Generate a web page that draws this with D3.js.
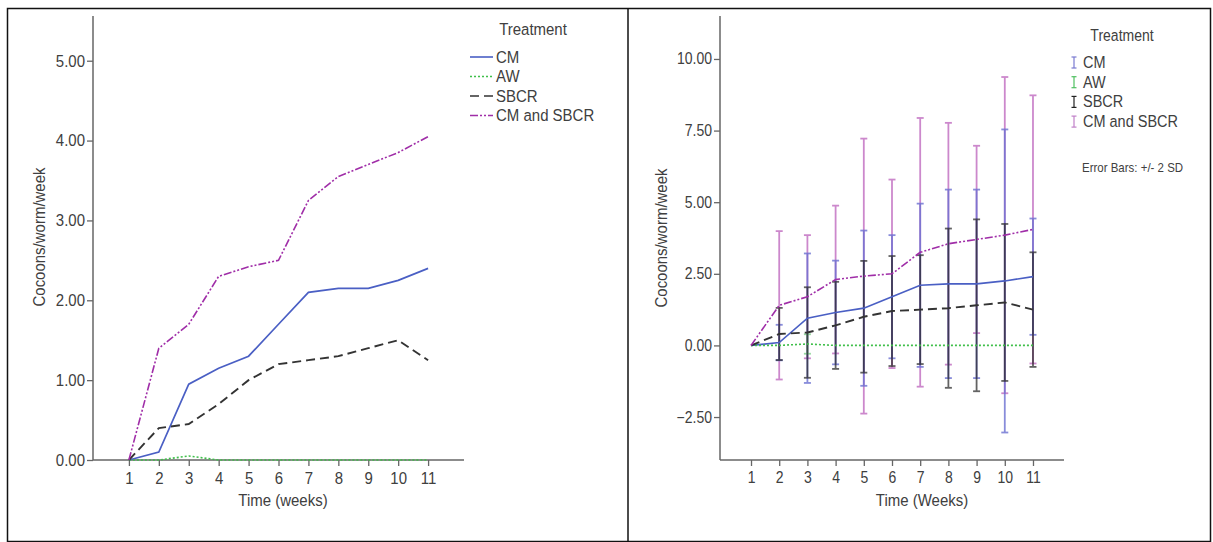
<!DOCTYPE html>
<html>
<head>
<meta charset="utf-8">
<script src="https://cdn.jsdelivr.net/npm/d3@7"></script>
<style>
  body { margin: 0; background: #fff; }
  text { font-family: Arial, "Liberation Sans", sans-serif; fill: #404040; }
</style>
</head>
<body>
<script>
// Data
const weeks = ['1', '2', '3', '4', '5', '6', '7', '8', '9', '10', '11'];
const treatments = ['CM', 'AW', 'SBCR', 'CM and SBCR'];

const cmMean     = [0, 0.10, 0.95, 1.15, 1.30, 1.70, 2.10, 2.15, 2.15, 2.25, 2.40];
const awMean     = [0, 0.00, 0.05, 0.00, 0.00, 0.00, 0.00, 0.00, 0.00, 0.00, 0.00];
const sbcrMean   = [0, 0.40, 0.45, 0.70, 1.00, 1.20, 1.25, 1.30, 1.40, 1.50, 1.25];
const cmSbcrMean = [0, 1.40, 1.70, 2.30, 2.42, 2.50, 3.25, 3.55, 3.70, 3.85, 4.05];

// +/- 2 SD half widths
const cm2sd     = [0, 0.62, 2.26, 1.81, 2.71, 2.15, 2.85, 3.29, 3.29, 5.29, 2.03];
const aw2sd     = [0, 0.00, 0.34, 0.00, 0.00, 0.00, 0.00, 0.00, 0.00, 0.00, 0.00];
const sbcr2sd   = [0, 0.91, 1.58, 1.52, 1.95, 1.92, 1.90, 2.78, 3.00, 2.74, 2.00];
const cmSbcr2sd = [0, 2.59, 2.15, 2.58, 4.80, 3.29, 4.69, 4.22, 3.27, 5.52, 4.68];

const leftTicks  = [0, 1, 2, 3, 4, 5];
const rightTicks = [-2.5, 0, 2.5, 5, 7.5, 10];

const series = [
  { name: treatments[0], mean: cmMean, sd2: cm2sd, color: '#4a5fc4', bar: '#6b70d2', key: '#7a7ad0', barOp: 0.8, dash: null, width: 1.7 },
  { name: treatments[1], mean: awMean, sd2: aw2sd, color: '#3fbf4a', bar: '#6cc87a', key: '#4fc060', barOp: 0.7, dash: '2,2', width: 1.6 },
  { name: treatments[2], mean: sbcrMean, sd2: sbcr2sd, color: '#333333', bar: '#222222', key: '#222222', barOp: 0.7, dash: '9,5', width: 1.9 },
  { name: treatments[3], mean: cmSbcrMean, sd2: cmSbcr2sd, color: '#a02ea8', bar: '#cc88cc', key: '#c080c8', barOp: 1, dash: '8,2,2,2,2,2', width: 1.6 }
];

const stretch = 1.12; // the source text is a little taller than wide

const svg = d3.select('body')
  .append('svg')
  .attr('width', 1213)
  .attr('height', 542);

// outer frame and divider
svg.append('rect')
  .attr('x', 7.5).attr('y', 8.5)
  .attr('width', 1203).attr('height', 533)
  .attr('fill', 'none').attr('stroke', '#111').attr('stroke-width', 1.5);
svg.append('line')
  .attr('x1', 628).attr('x2', 628).attr('y1', 8.5).attr('y2', 541.5)
  .attr('stroke', '#111').attr('stroke-width', 1.5);

const axisColor = '#666';

function label(g, x, y, txt, size, anchor, rot) {
  return g.append('text')
    .attr('transform', `translate(${x},${y})` + (rot ? ` rotate(${rot})` : '') + ` scale(1,${stretch})`)
    .attr('text-anchor', anchor || 'start')
    .style('font-size', size + 'px')
    .text(txt);
}

function drawAxes(g, x, y, yTicks, opt) {
  const [x0, x1] = x.range();
  const [y0, y1] = y.range();

  const yAxis = g.append('g')
    .attr('transform', `translate(${x0},0)`)
    .call(d3.axisLeft(y).tickValues(yTicks).tickFormat(d3.format('.2f')).tickSize(6).tickPadding(2).tickSizeOuter(0));
  yAxis.select('.domain').remove();
  yAxis.selectAll('line').attr('stroke', axisColor).attr('stroke-width', 1.3);
  yAxis.selectAll('text').style('font-size', opt.font + 'px').attr('fill', '#404040')
    .attr('transform', `scale(1,${stretch})`);

  const xAxis = g.append('g')
    .attr('transform', `translate(0,${y0})`)
    .call(d3.axisBottom(x).tickSize(6).tickPadding(4.5).tickSizeOuter(0));
  xAxis.select('.domain').remove();
  xAxis.selectAll('line').attr('stroke', axisColor).attr('stroke-width', 1.3);
  xAxis.selectAll('text').style('font-size', opt.font + 'px').attr('fill', '#404040')
    .attr('transform', `scale(1,${stretch})`);

  // axis lines
  g.append('line').attr('x1', x0).attr('x2', x0).attr('y1', y0).attr('y2', y1)
    .attr('stroke', axisColor).attr('stroke-width', 1.5);
  g.append('line').attr('x1', x0).attr('x2', x1).attr('y1', y0).attr('y2', y0)
    .attr('stroke', axisColor).attr('stroke-width', 1.5);

  label(g, opt.xTitleX, 506, opt.xTitle, 15, 'middle');
  label(g, opt.yTitleX, opt.yTitleY, 'Cocoons/worm/week', 15, 'middle', -90);
}

function drawLines(g, x, y) {
  const line = d3.line()
    .x((d, i) => x(weeks[i]))
    .y(d => y(d));
  series.forEach(s => {
    g.append('path')
      .datum(s.mean)
      .attr('d', line)
      .attr('fill', 'none')
      .attr('stroke', s.color)
      .attr('stroke-width', s.width)
      .attr('stroke-dasharray', s.dash);
  });
}

// ---------- left chart ----------
const xL = d3.scalePoint().domain(weeks).range([93, 464]).padding(1.2);
const yL = d3.scaleLinear().domain([0, 5.56]).range([460, 16]);
const gL = svg.append('g');
drawAxes(gL, xL, yL, leftTicks, { font: 15, xTitle: 'Time (weeks)', xTitleX: 283, yTitleX: 45, yTitleY: 237 });
drawLines(gL, xL, yL);

// left legend
const legL = svg.append('g');
label(legL, 533, 35, 'Treatment', 15, 'middle');
series.forEach((s, i) => {
  const yy = 57 + i * 19.5;
  legL.append('line').attr('x1', 470).attr('x2', 493).attr('y1', yy).attr('y2', yy)
    .attr('stroke', s.color).attr('stroke-width', 1.6).attr('stroke-dasharray', s.dash);
  label(legL, 496, yy + 5.5, s.name, 15);
});

// ---------- right chart ----------
const xR = d3.scalePoint().domain(weeks).range([720, 1064]).padding(1.1);
const yR = d3.scaleLinear().domain([-4, 11.5]).range([460, 16]);
const gR = svg.append('g');
drawAxes(gR, xR, yR, rightTicks, { font: 14, xTitle: 'Time (Weeks)', xTitleX: 922, yTitleX: 667, yTitleY: 238 });

// error bars: pink first, then the others blended over it
const barOrder = [3, 0, 1, 2];
barOrder.forEach(k => {
  const s = series[k];
  const bars = weeks.map((w, i) => ({ w, lo: s.mean[i] - s.sd2[i], hi: s.mean[i] + s.sd2[i], sd: s.sd2[i] }))
    .filter(d => d.sd > 0);
  const gb = gR.append('g').attr('stroke', s.bar).attr('stroke-width', 1.8).attr('opacity', s.barOp);
  gb.selectAll('line.v').data(bars).enter().append('line')
    .attr('x1', d => xR(d.w)).attr('x2', d => xR(d.w))
    .attr('y1', d => yR(d.lo)).attr('y2', d => yR(d.hi));
  gb.selectAll('line.lo').data(bars).enter().append('line')
    .attr('x1', d => xR(d.w) - 3.5).attr('x2', d => xR(d.w) + 3.5)
    .attr('y1', d => yR(d.lo)).attr('y2', d => yR(d.lo));
  gb.selectAll('line.hi').data(bars).enter().append('line')
    .attr('x1', d => xR(d.w) - 3.5).attr('x2', d => xR(d.w) + 3.5)
    .attr('y1', d => yR(d.hi)).attr('y2', d => yR(d.hi));
});
drawLines(gR, xR, yR);

// right legend
const legR = svg.append('g');
label(legR, 1122, 41, 'Treatment', 14, 'middle');
series.forEach((s, i) => {
  const yy = 63 + i * 19.7;
  const gi = legR.append('g').attr('stroke', s.key).attr('stroke-width', 1.2);
  gi.append('line').attr('x1', 1074).attr('x2', 1074).attr('y1', yy - 6).attr('y2', yy + 5);
  gi.append('line').attr('x1', 1071.5).attr('x2', 1076.5).attr('y1', yy - 6).attr('y2', yy - 6);
  gi.append('line').attr('x1', 1071.5).attr('x2', 1076.5).attr('y1', yy + 5).attr('y2', yy + 5);
  label(legR, 1083, yy + 5, s.name, 14.5);
});
label(legR, 1082, 172, 'Error Bars: +/- 2 SD', 11.5);
</script>
</body>
</html>
